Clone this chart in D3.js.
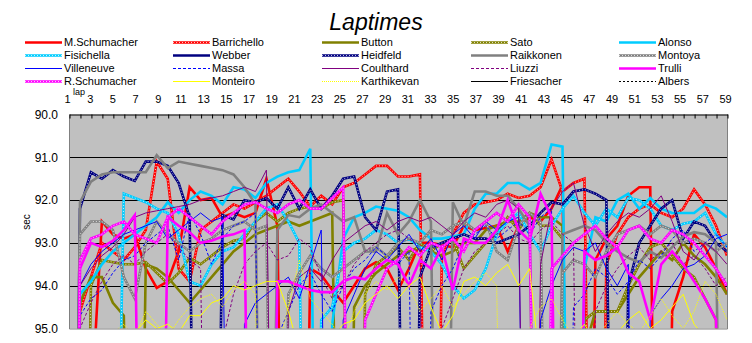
<!DOCTYPE html>
<html><head><meta charset="utf-8">
<script src="https://cdn.jsdelivr.net/npm/d3@7"></script>
<style>body{margin:0;background:#fff;} text{font-family:Arial,"Liberation Sans",sans-serif;fill:#000;}</style>
</head><body>
<svg id="c" width="752" height="343"></svg>
<script>
// ---------- data ----------
const laps = d3.range(1, 62);
const tickLabels = d3.range(1, 60, 2);
const yTicks = [90, 91, 92, 93, 94, 95];
const drivers = ["M.Schumacher","Barrichello","Button","Sato","Alonso","Fisichella","Webber","Heidfeld","Raikkonen","Montoya","Villeneuve","Massa","Coulthard","Liuzzi","Trulli","R.Schumacher","Monteiro","Karthikevan","Friesacher","Albers"];

const mSchumacher = [115,110,97,92.5,92.8,92.9,92.8,93.6,94.05,93.9,
93.2,91.7,92.0,91.95,92.4,92.3,92.4,92.3,91.5,92.6,
110,110,93.6,93.75,94.1,94.4,94.0,93.6,93.45,93.6,
94.1,93.6,93.0,93.0,93.05,93.1,92.6,92.7,92.65,92.6,
93.2,92.6,92.4,92.5,92.2,91.65,110,110,93.4,92.9,
92.6,91.9,91.7,91.7,110,94.6,93.8,92.8,93.1,93.6,94.2];
const barrichello = [115,94.6,93.8,93.0,93.2,93.4,93.1,92.7,91.1,91.5,
93.6,93.9,92.7,92.5,92.3,92.1,92.2,92.05,91.9,91.7,
91.5,91.8,92.15,91.9,92.1,91.7,91.6,91.4,91.2,91.2,
91.45,91.45,91.4,110,93.3,92.8,92.3,92.1,92.05,92.0,
91.85,91.95,91.9,91.7,91.05,91.8,91.6,91.5,110,93.5,
92.8,92.4,92.2,92.1,92.3,92.4,92.2,91.75,92.1,92.6,93.3];
const button = [115,94.4,93.8,93.8,94.4,94.7,110,93.5,93.6,93.8,
94.1,94.4,94.1,93.8,93.5,93.2,93.0,92.8,92.7,92.6,
92.5,92.6,92.5,92.4,92.3,110,94.5,94.0,93.7,93.5,
93.3,93.2,93.1,93.2,93.3,93.2,93.0,93.0,92.7,92.6,
92.5,92.5,92.3,92.4,92.4,92.6,110,95.5,94.6,94.6,
94.6,94.2,93.8,93.5,93.2,93.4,93.0,93.3,93.5,93.8,94.2];
const sato = [115,110,94.0,93.4,93.45,93.5,93.5,93.45,93.7,93.95,
93.7,93.35,93.5,93.3,93.1,92.95,92.9,92.5,92.3,92.5,
92.3,92.2,92.15,92.2,92.05,92.0,110,94.2,93.5,93.3,
93.1,93.4,93.0,93.2,93.0,92.9,93.6,93.3,93.0,92.8,
92.4,92.7,92.3,92.6,92.6,92.9,110,94.8,94.6,94.6,
94.6,94.0,93.5,93.1,93.0,93.3,93.6,93.8,94.3,94.8,110];
const alonso = [115,94.2,93.9,93.5,93.2,93.0,92.8,92.6,92.4,92.05,
92.3,92.0,91.8,91.9,92.1,91.7,91.75,91.95,91.6,91.45,
91.35,91.3,90.8,110,94.9,92.9,92.4,92.3,92.15,92.2,
92.25,92.4,92.7,92.9,92.9,92.85,92.8,92.2,91.85,91.85,
91.6,91.6,91.75,91.6,90.7,90.75,110,93.6,92.4,92.5,
92.0,91.85,92.2,91.95,92.2,92.3,92.3,92.3,92.1,92.2,92.4];
const fisichella = [115,112,97,95.6,105,91.85,91.95,92.05,92.2,92.3,
92.8,93.9,94.0,93.5,93.2,93.1,92.8,92.5,92.2,92.1,
92.5,93.0,110,94.8,94.5,93.2,93.0,92.9,92.7,92.8,
93.0,92.9,93.1,93.2,93.5,94.0,94.3,94.1,93.6,92.8,
92.5,92.3,92.8,93.2,92.6,92.2,91.9,92.3,92.6,92.2,
92.4,91.95,92.0,92.2,92.6,92.7,92.55,92.5,92.3,92.8,93.1];
const webber = [115];
const heidfeld = [115,92.2,91.35,91.5,91.3,91.45,91.55,91.1,91.1,91.2,
91.6,92.4,110,110,92.35,92.45,92.0,92.05,91.95,92.2,
91.7,92.2,91.75,92.2,91.9,91.5,91.45,92.4,92.7,91.8,
91.75,110,93.8,93.1,93.0,92.9,92.8,92.9,92.9,93.0,
92.9,92.8,92.6,92.3,92.05,92.1,91.8,91.75,91.85,92.0,
110,94.0,93.0,92.6,92.2,92.0,92.9,92.5,92.6,93.0,93.2];
const raikkonen = [115,92.05,91.57,91.4,91.35,91.35,91.35,91.35,90.95,91.25,
91.1,91.15,91.2,91.25,91.3,91.4,91.7,92.1,110,92.7,
92.35,92.4,92.2,92.1,92.3,92.5,92.4,93.2,93.2,92.3,
92.8,92.5,92.0,92.5,110,92.05,92.6,91.8,91.8,91.9,
91.9,92.2,92.6,110,110,92.8,92.7,92.6,92.7,93.0,
93.2,93.35,93.45,93.2,93.35,93.1,92.85,92.75,92.8,93.0,110];
const montoya = [115,92.8,92.5,92.5,92.7,93.8,94.3,93.0,92.5,92.8,
93.0,93.2,93.0,92.9,92.7,92.6,92.5,92.7,92.6,110,
94.2,93.7,93.3,93.6,93.8,93.6,93.4,93.2,93.1,93.3,
93.0,92.9,93.0,92.7,92.8,92.6,92.5,92.7,92.5,93.2,
93.4,92.6,92.3,92.5,110,93.7,93.4,93.5,93.8,93.2,
92.8,92.7,92.6,92.8,92.6,92.7,93.0,92.9,93.0,93.2,93.0];
const villeneuve = [115,94.0,93.5,93.2,93.0,92.8,92.7,92.6,92.5,92.9,
92.7,92.5,92.3,92.5,92.4,110,94.9,94.4,94.2,94.0,
93.8,94.3,93.5,92.7,110,94.8,94.2,93.6,93.2,93.4,
93.1,92.8,93.2,92.9,93.4,92.8,92.6,92.9,92.5,92.7,
92.5,92.4,110,94.8,94.0,93.4,93.1,93.2,93.0,93.6,
94.0,93.5,110,94.7,94.3,94.0,93.6,93.5,93.3,92.9,92.8];
const massa = [115,94.7,94.3,94.1,93.7,93.4,93.3,93.0,92.8,92.6,
93.4,92.3,92.8,93.5,92.9,92.6,92.5,92.3,110,95.2,
94.6,94.0,93.7,94.2,94.6,94.0,93.6,93.4,93.1,93.3,
93.5,93.2,110,94.6,94.0,93.6,93.0,92.8,92.6,92.9,
92.7,92.5,92.8,92.4,92.2,110,94.5,94.2,93.6,93.8,
94.2,93.9,93.4,93.6,93.3,92.9,92.7,93.2,93.0,92.8,93.1];
const coulthard = [115,94.0,93.6,93.3,93.1,92.8,92.4,92.3,92.25,92.2,
92.15,92.1,92.0,91.95,91.9,91.8,91.7,91.8,91.3,110,
94.6,93.8,93.6,93.9,93.4,93.0,92.8,92.6,92.5,92.7,
92.5,92.4,92.5,92.4,92.6,92.8,92.5,92.3,92.4,92.1,
92.0,92.2,110,93.5,92.2,91.8,91.6,92.6,93.2,92.8,
92.5,92.3,92.4,92.2,91.9,92.5,93.2,93.4,93.0,93.2,93.5];
const liuzzi = [115,95.0,94.4,93.9,93.5,93.3,93.5,93.2,93.0,92.8,
93.1,93.4,93.6,110,95.3,94.2,93.5,93.2,93.0,93.4,
93.3,92.9,93.1,93.8,94.3,94.0,93.5,93.2,93.0,92.8,
92.7,92.9,93.1,110,95.0,94.3,93.6,93.2,93.0,92.8,
92.6,92.9,93.0,92.7,92.5,92.8,93.0,110,94.6,94.0,
93.6,93.3,93.1,93.4,93.2,93.0,93.5,93.3,93.6,94.0,93.8];
const trulli = [115,93.6,93.0,93.1,92.95,92.7,92.35,110,110,92.4,
92.6,92.75,93.0,92.95,92.85,92.8,92.7,110,110,93.9,
93.9,94.0,94.1,94.15,94.15,93.9,93.8,93.85,93.6,93.4,
93.5,94.0,93.4,93.6,93.1,94.1,92.9,93.0,93.0,92.7,
92.0,92.7,92.95,91.85,92.4,110,110,93.2,93.4,93.3,
93.1,93.7,93.9,94.8,93.5,93.2,93.5,93.9,94.3,94.8,110];
const rSchumacher = [115,93.4,92.9,92.8,92.6,92.5,92.8,92.9,93.0,92.4,
92.2,92.4,92.6,92.8,92.5,92.3,92.1,92.05,92.2,92.3,
92.1,92.0,92.2,92.2,91.95,91.7,110,94.8,94.2,93.6,
93.4,93.1,93.3,93.0,93.1,92.9,93.2,92.7,92.5,92.3,
92.5,92.1,92.4,110,93.6,93.3,93.0,92.8,92.6,92.9,
93.1,92.7,92.6,92.9,93.0,92.7,92.8,93.0,93.3,93.6,94.0];
const monteiro = [115,110,96.0,95.8,95.6,95.4,95.1,94.8,95.0,94.9,
95.1,94.7,94.7,94.4,94.3,94.0,94.1,94.0,93.9,93.9,
94.6,95.5,110,96.0,95.2,94.9,94.8,94.4,94.2,94.0,
94.3,94.0,93.8,94.5,95.1,94.7,93.9,93.8,94.0,93.7,
93.5,94.0,93.6,96.0,110,95.8,95.2,94.9,95.3,95.5,
95.1,94.8,94.6,95.0,94.8,94.5,94.2,94.9,95.2,95.0,95.4];
const karthikeyan = [115,96.0,95.5,95.3,95.1,94.9,95.2,94.6,94.9,95.2,
94.8,94.5,94.3,94.2,94.5,94.1,93.9,94.2,110,95.5,
94.5,93.4,94.3,94.6,94.9,95.3,94.6,94.2,93.9,94.1,
93.8,94.0,94.6,94.3,94.0,94.5,94.2,93.9,93.7,94.0,
110,95.6,95.0,94.5,94.3,94.8,95.2,95.0,95.3,94.9,
94.6,94.9,95.1,94.7,94.3,94.7,95.0,94.6,93.9,94.2,94.8];
const friesacher = [115,97.0,96.5,96.2,96.0,95.9,95.8,96.1,95.7,95.6,
95.9,95.5,95.8,95.6,95.4,110,97.0,96.2,95.8,95.6,
95.7,95.5,95.4,95.6,95.3,95.5,95.8,95.4,95.6,95.5,
95.3,95.6,110,96.8,96.0,95.7,95.5,95.4,95.6,95.3,
95.5,95.2,95.4,95.6,95.3,95.5,110,96.5,95.9,95.6,
95.4,95.5,95.3,95.6,95.4,95.2,95.5,95.3,95.6,95.4,95.5];
const albers = [115,96.5,96.0,95.8,95.9,95.6,95.7,95.5,95.8,95.4,
95.6,95.3,95.5,95.7,95.4,95.6,110,96.8,96.0,95.7,
95.5,95.6,95.3,95.5,95.4,95.7,95.5,95.3,95.6,95.4,
95.5,95.3,95.6,110,96.5,95.8,95.6,95.4,95.5,95.3,
95.6,95.4,95.2,95.5,95.3,95.6,95.4,110,96.3,95.7,
95.5,95.3,95.4,95.6,95.3,95.5,95.4,95.2,95.5,95.3,95.6];

const seriesValues = [mSchumacher, barrichello, button, sato, alonso, fisichella, webber, heidfeld,
  raikkonen, montoya, villeneuve, massa, coulthard, liuzzi, trulli, rSchumacher, monteiro, karthikeyan, friesacher, albers];

// styles: color, width, kind ("solid" | "speckle" | dash array)
const styles = [
  ["#FF0000",2.6,"solid"],["#FF0000",2.6,"speckle"],["#808000",2.6,"solid"],["#808000",2.6,"speckle"],["#00CCFF",2.6,"solid"],
  ["#00CCFF",2.6,"speckle"],["#000080",2.6,"solid"],["#000080",2.6,"speckle"],["#808080",2.6,"solid"],["#808080",2.6,"speckle"],
  ["#0000FF",1,"solid"],["#0000FF",1,"3,2"],["#800080",1,"solid"],["#800080",1,"3,2"],["#FF00FF",2.6,"solid"],
  ["#FF00FF",2.6,"speckle"],["#FFFF00",1,"solid"],["#FFFF00",1,"1,1"],["#000000",1,"solid"],["#000000",1,"2,2"]
];

// ---------- layout ----------
const svg = d3.select("#c");
const L = 69, R = 727, T = 114.5, B = 328.5;
const x = d3.scaleLinear().domain([1, 61]).range([L, R]);
const xl = d3.scaleLinear().domain([1, 59]).range([67, 725]);
const y = d3.scaleLinear().domain([90, 95]).range([T, B]);

svg.append("rect").attr("width", 752).attr("height", 343).attr("fill", "#fff");

// title
svg.append("text").attr("x", 376).attr("y", 30).attr("text-anchor", "middle")
  .style("font-size", "23px").style("font-style", "italic").text("Laptimes");

// legend
const legX = [25, 173, 322, 471, 619], legY = [42, 55, 68, 81];
function strokeLine(g, pathFn, st) {
  const [c, w, k] = st;
  const p = pathFn(g.append("path")).attr("fill", "none").attr("stroke", c).attr("stroke-width", w);
  if (k === "speckle") {
    pathFn(g.append("path")).attr("fill", "none").attr("stroke", "#fff").attr("stroke-width", 0.9)
      .attr("stroke-dasharray", "1,2").attr("opacity", 0.85);
  } else if (k !== "solid") {
    p.attr("stroke-dasharray", k);
  }
}
const leg = svg.append("g");
drivers.forEach((name, i) => {
  const cx = legX[i % 5], cy = legY[Math.floor(i / 5)];
  strokeLine(leg, sel => sel.attr("d", `M${cx},${cy + 0.5}H${cx + 37}`), styles[i]);
  leg.append("text").attr("x", cx + 39).attr("y", cy + 4).style("font-size", "11px").text(name);
});

// plot area
svg.append("rect").attr("x", L).attr("y", T).attr("width", R - L).attr("height", B - T).attr("fill", "#C0C0C0");
svg.append("g").selectAll("line").data(yTicks.slice(1, 5)).join("line")
  .attr("x1", L).attr("x2", R).attr("y1", d => Math.round(y(d)) + 0.5).attr("y2", d => Math.round(y(d)) + 0.5)
  .attr("stroke", "#000").attr("stroke-width", 1);

svg.append("clipPath").attr("id", "clip").append("rect")
  .attr("x", L).attr("y", T).attr("width", R - L).attr("height", B - T);

const line = d3.line().defined(d => d != null).x((d, i) => x(laps[i])).y(d => y(d));
const plot = svg.append("g").attr("clip-path", "url(#clip)");
seriesValues.forEach((vals, i) => {
  strokeLine(plot, sel => sel.attr("d", line(vals)).attr("stroke-linejoin", "miter"), styles[i]);
});

// borders
svg.append("path").attr("d", `M${L + 0.5},${T}V${B + 0.5}H${R + 0.5}V${T}`).attr("fill", "none").attr("stroke", "#808080");

// top axis ticks
svg.append("g").attr("transform", `translate(0.5,${T})`)
  .call(d3.axisTop(x).tickValues(laps).tickSize(-4).tickSizeOuter(0).tickFormat(""))
  .call(g => g.selectAll("line,path").attr("stroke", "#000"));
// top labels
svg.append("g").attr("transform", "translate(0,106)")
  .call(d3.axisTop(xl).tickValues(tickLabels).tickSize(0).tickPadding(3))
  .call(g => g.select(".domain").remove())
  .call(g => g.selectAll("text").style("font-size", "11px").style("font-family", "Arial,'Liberation Sans',sans-serif"));
svg.append("text").attr("x", 79).attr("y", 95).attr("text-anchor", "middle").style("font-size", "9px").text("lap");

// left axis labels
svg.append("g").attr("transform", `translate(${L},0)`)
  .call(d3.axisLeft(y).tickValues(yTicks).tickFormat(d3.format(".1f")).tickSize(0).tickPadding(11))
  .call(g => g.select(".domain").remove())
  .call(g => g.selectAll("text").style("font-size", "12px").style("font-family", "Arial,'Liberation Sans',sans-serif"));
svg.append("text").attr("transform", "translate(30,222) rotate(-90)").attr("text-anchor", "middle")
  .style("font-size", "10px").text("sec");
</script>
</body></html>
